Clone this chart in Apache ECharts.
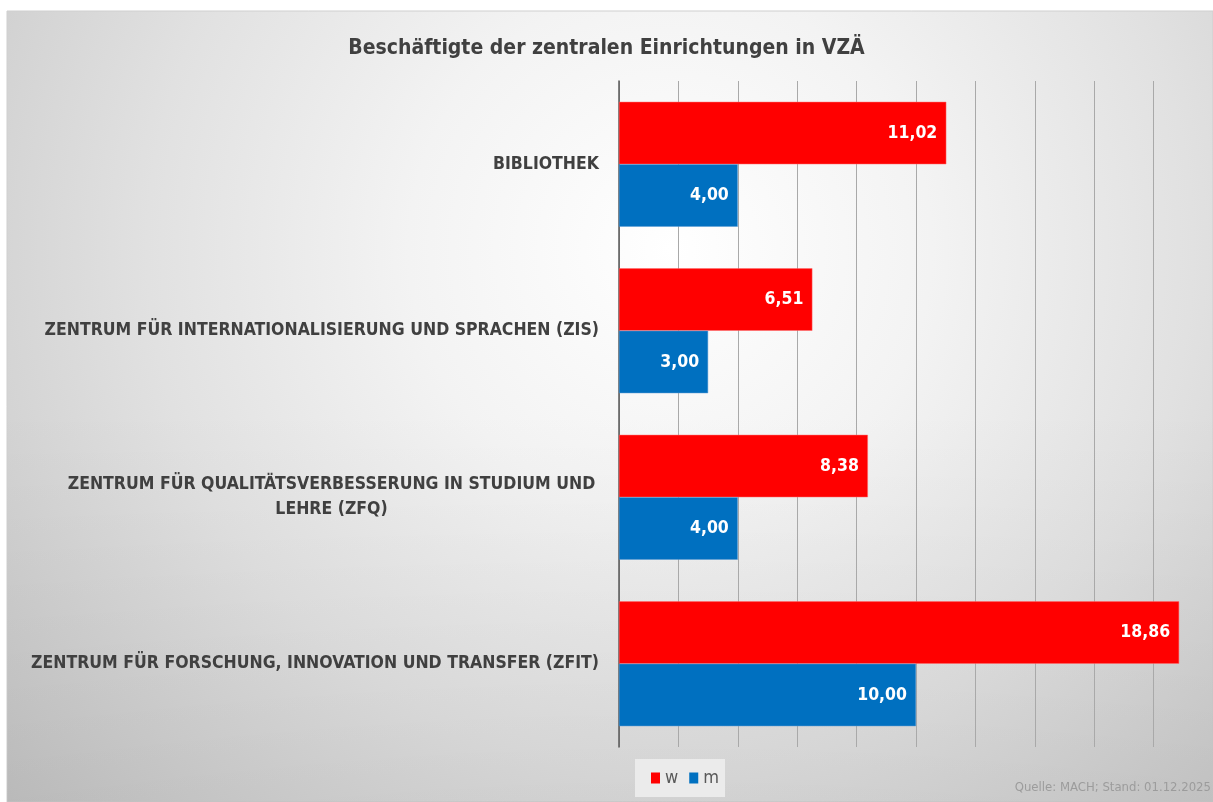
<!DOCTYPE html>
<html>
<head>
<meta charset="utf-8">
<script src="https://cdn.jsdelivr.net/npm/echarts@6/dist/echarts.min.js"></script>
<style>
  html, body { margin: 0; padding: 0; background: #fff; }
  #chart { width: 1213px; height: 802px; }
</style>
</head>
<body>
<div id="chart"></div>
<script>
// Einrichtungen (von oben nach unten)
const categories = [
  'BIBLIOTHEK',
  'ZENTRUM FÜR INTERNATIONALISIERUNG UND SPRACHEN (ZIS)',
  'ZENTRUM FÜR QUALITÄTSVERBESSERUNG IN STUDIUM UND\nLEHRE (ZFQ)',
  'ZENTRUM FÜR FORSCHUNG, INNOVATION UND TRANSFER (ZFIT)'
];
const wValues = [11.02, 6.51, 8.38, 18.86];
const mValues = [4.00, 3.00, 4.00, 10.00];

const FONT = "'DejaVu Sans Condensed', 'Liberation Sans', sans-serif";
const fmt = v => v.toFixed(2).replace('.', ',');

let myChart = echarts.init(document.getElementById('chart'));
let option = {
  animation: false,
  title: {
    text: 'Beschäftigte der zentralen Einrichtungen in VZÄ',
    left: 'center',
    top: 33,
    textStyle: { fontFamily: FONT, fontSize: 21, fontWeight: 'bold', color: '#404040' }
  },
  graphic: [
    {
      type: 'rect', z: -100, silent: true,
      shape: { x: 7, y: 11, width: 1206, height: 791 },
      style: {
        fill: {
          type: 'radial', x: 0.55, y: 0.3, r: 1.1,
          colorStops: [
            { offset: 0, color: '#ffffff' },
            { offset: 0.3, color: '#f3f3f3' },
            { offset: 0.6, color: '#e1e1e1' },
            { offset: 1, color: '#c4c4c4' }
          ]
        },
        stroke: '#cfcfcf', lineWidth: 1
      }
    },
    {
      // leichte Abdunklung nach unten
      type: 'rect', z: -99, silent: true,
      shape: { x: 7, y: 11, width: 1206, height: 791 },
      style: {
        fill: {
          type: 'linear', x: 0, y: 0, x2: 0, y2: 1,
          colorStops: [
            { offset: 0, color: 'rgba(0,0,0,0)' },
            { offset: 0.5, color: 'rgba(0,0,0,0)' },
            { offset: 1, color: 'rgba(0,0,0,0.06)' }
          ]
        }
      }
    },
    {
      type: 'text', right: 2, bottom: 8,
      style: { text: 'Quelle: MACH; Stand: 01.12.2025', fill: '#9c9c9c', font: '13px ' + FONT }
    }
  ],
  legend: {
    data: ['w', 'm'],
    left: 635,
    top: 759,
    icon: 'rect',
    itemWidth: 9,
    itemHeight: 11,
    itemGap: 11,
    padding: [10, 6, 10, 16],
    backgroundColor: '#ebebeb',
    itemStyle: { borderWidth: 0 },
    textStyle: { fontFamily: FONT, fontSize: 18, color: '#595959' }
  },
  grid: { left: 619, right: -6, top: 81, bottom: 55 },
  xAxis: {
    type: 'value',
    min: 0,
    max: 20,
    interval: 2,
    axisLabel: { show: false },
    axisLine: { show: false },
    axisTick: { show: false },
    splitLine: { lineStyle: { color: '#a9a9a9', width: 1 } }
  },
  yAxis: {
    type: 'category',
    inverse: true,
    data: categories,
    axisLine: { lineStyle: { color: '#595959', width: 1.5 } },
    axisTick: { show: false },
    axisLabel: {
      margin: 20,
      fontFamily: FONT,
      fontSize: 17.5,
      fontWeight: 'bold',
      color: '#404040',
      lineHeight: 25,
      formatter: function (value) {
        if (value.indexOf('\n') >= 0) {
          return value.split('\n').map(s => '{c|' + s + '}').join('\n');
        }
        return value;
      },
      rich: {
        c: { width: 535, align: 'center', fontFamily: FONT, fontSize: 17.5, fontWeight: 'bold', color: '#404040', lineHeight: 25 }
      }
    }
  },
  series: [
    {
      name: 'w',
      type: 'bar',
      data: wValues,
      barGap: '0%',
      barCategoryGap: '25%',
      itemStyle: { color: '#ff0000', borderColor: '#ff6b6b', borderWidth: 0.5 },
      label: {
        show: true, position: 'insideRight', distance: 9,
        formatter: p => fmt(p.value),
        fontFamily: FONT, fontSize: 17.5, fontWeight: 'bold', color: '#ffffff'
      }
    },
    {
      name: 'm',
      type: 'bar',
      data: mValues,
      itemStyle: { color: '#0070c0', borderColor: '#5b9bd5', borderWidth: 0.5 },
      label: {
        show: true, position: 'insideRight', distance: 9,
        formatter: p => fmt(p.value),
        fontFamily: FONT, fontSize: 17.5, fontWeight: 'bold', color: '#ffffff'
      }
    }
  ]
};
myChart.setOption(option);
</script>
</body>
</html>
